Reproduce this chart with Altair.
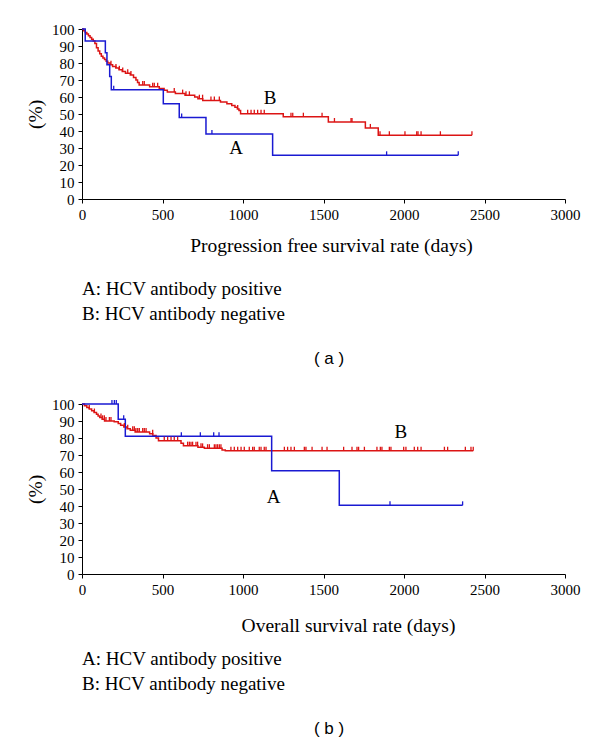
import altair as alt
import pandas as pd

# ---------------- data ----------------
PFS_A_T = [0, 20, 145, 155, 172, 182, 505, 604, 770, 1184, 2337]
PFS_A_S = [100, 93, 86, 79, 72, 64.3, 56, 48, 38.3, 25.7, 25.7]
PFS_A_CENS = [197, 619, 807, 1892, 2337]

PFS_B_T = [0, 10, 20, 30, 40, 50, 60, 70, 80, 90, 100, 110, 120, 130, 140, 150, 160, 175, 190, 210,
           230, 250, 270, 300, 320, 335, 345, 355, 420, 480, 510, 530, 580, 640, 700, 720, 750, 860, 900, 930,
           950, 965, 975, 985, 1250, 1530, 1760, 1840, 2422]
PFS_B_S = [100, 99, 98, 97, 96, 95, 94, 93, 91.5, 89, 87, 85.5, 84, 83, 82, 81, 80, 79, 78, 77,
           76, 75, 74, 73, 71.5, 70, 68.5, 67, 66, 65, 64, 63, 62, 61, 60, 59, 58, 57, 56, 55,
           54, 53, 52, 50.2, 48.4, 45.3, 41.8, 37.5, 37.5]
PFS_B_CENS = [180, 211, 232, 253, 284, 304, 377, 387, 439, 449, 470, 573, 625, 646, 667, 729, 749, 801,
              822, 853, 967, 1029, 1050, 1070, 1091, 1112, 1132, 1298, 1309, 1375, 1491, 1568, 1671, 1677,
              1791, 1851, 1909, 2006, 2079, 2087, 2106, 2226, 2422]

OS_A_T = [0, 225, 269, 1178, 1598, 2364]
OS_A_S = [100, 91, 81, 60.7, 40.4, 40.4]
OS_A_CENS = [186, 201, 213, 259, 617, 735, 818, 851, 1913, 2364]

OS_B_T = [0, 15, 30, 45, 60, 75, 90, 100, 110, 125, 140, 200, 225, 240, 260, 280, 300, 330, 420, 440,
          460, 475, 615, 630, 720, 760, 870, 890, 2430]
OS_B_S = [100, 99, 98, 97, 96, 95, 94, 93, 92, 91, 90, 89.5, 88.5, 87.5, 86.5, 85.5, 84.5, 83.5, 82.5, 81.5,
          80, 78.4, 76.9, 75.5, 74.5, 74, 73, 72.5, 72.5]
OS_B_CENS = [45, 77, 118, 128, 139, 149, 170, 180, 263, 284, 315, 325, 335, 346, 356, 377, 387, 398, 439,
             511, 532, 553, 573, 594, 656, 667, 677, 687, 708, 718, 739, 749, 780, 791, 822, 832, 842, 853,
             863, 925, 946, 967, 988, 1008, 1039, 1060, 1070, 1101, 1112, 1132, 1143, 1257, 1277, 1298, 1319,
             1381, 1391, 1429, 1491, 1522, 1625, 1677, 1708, 1718, 1754, 1832, 1853, 1863, 1909, 1919, 1998,
             2012, 2064, 2085, 2106, 2251, 2271, 2381, 2416, 2430]

GROUP_LABELS = ["A", "B"]
LEGEND_LINES = ["A: HCV antibody positive", "B: HCV antibody negative"]
X_TICKS = [0, 500, 1000, 1500, 2000, 2500, 3000]
Y_TICKS = [0, 10, 20, 30, 40, 50, 60, 70, 80, 90, 100]

# ---------------- style ----------------
BLUE = "#1a1ad2"
RED = "#dc1414"
SERIF = "Liberation Serif"
SANS = "Liberation Sans"
W, H = 483, 170


def surv_at(times, values, t):
    v = values[0]
    for ti, vi in zip(times, values):
        if ti <= t:
            v = vi
    return v


def panel(a_t, a_s, a_c, b_t, b_s, b_c, xtitle, title_x, title_pad, annot, leg_y, cap, cap_y):
    xs = alt.Scale(domain=[0, 3000], nice=False)
    ys = alt.Scale(domain=[0, 100], nice=False)
    xax = alt.Axis(values=X_TICKS, title=xtitle, titleX=title_x, titlePadding=title_pad,
                   format="d", labelOverlap=False, labelFlush=False)
    yax = alt.Axis(values=Y_TICKS, title="(%)", format="d", labelOverlap=False, labelFlush=False)
    X = lambda: alt.X("t:Q", scale=xs, axis=xax)
    Y = lambda: alt.Y("s:Q", scale=ys, axis=yax)

    dA = pd.DataFrame({"t": a_t, "s": a_s})
    dB = pd.DataFrame({"t": b_t, "s": b_s})
    cA = pd.DataFrame({"t": a_c, "s": [surv_at(a_t, a_s, t) for t in a_c]})
    cB = pd.DataFrame({"t": b_c, "s": [surv_at(b_t, b_s, t) for t in b_c]})

    def line(d, col):
        return alt.Chart(d).mark_line(interpolate="step-after", color=col, strokeWidth=1.5).encode(
            x=X(), y=Y())

    def cens(d, col):
        return alt.Chart(d).mark_point(shape="M0,0L0,-1", size=64, filled=False, stroke=col,
                                       strokeWidth=1.3, opacity=1).encode(x=X(), y=Y())

    ann = pd.DataFrame({"t": [annot[0][0], annot[1][0]], "s": [annot[0][1], annot[1][1]],
                        "lab": GROUP_LABELS})
    annc = alt.Chart(ann).mark_text(font=SERIF, fontSize=19, color="black").encode(
        x=X(), y=Y(), text="lab:N")

    one = pd.DataFrame({"k": [0]})
    legs = [alt.Chart(one).mark_text(text=LEGEND_LINES[i], font=SERIF, fontSize=19, align="left",
                                     baseline="middle", color="black").encode(
        x=alt.value(0), y=alt.value(leg_y[i])) for i in range(2)]
    capc = alt.Chart(one).mark_text(text=cap, font=SANS, fontSize=17, align="center",
                                    baseline="middle", color="black").encode(
        x=alt.value(247), y=alt.value(cap_y))

    return alt.layer(line(dB, RED), line(dA, BLUE), cens(cB, RED), cens(cA, BLUE), annc,
                     *legs, capc).properties(width=W, height=H)


pa = panel(PFS_A_T, PFS_A_S, PFS_A_CENS, PFS_B_T, PFS_B_S, PFS_B_CENS,
           "Progression free survival rate (days)", 249, 14,
           [(957, 30), (1168, 59.4)], [260, 285], "( a )", 330)
pb = panel(OS_A_T, OS_A_S, OS_A_CENS, OS_B_T, OS_B_S, OS_B_CENS,
           "Overall survival rate (days)", 266, 19,
           [(1190, 45.5), (1981, 83.3)], [255, 280], "( b )", 325)

chart = alt.vconcat(pa, pb, spacing=30).properties(
    padding={"left": 17, "top": 14, "right": 5, "bottom": 5}
).configure_view(stroke=None).configure_axis(
    grid=False, domainColor="black", tickColor="black", tickSize=4, domainWidth=1, tickWidth=1,
    labelFont=SERIF, labelFontSize=15, labelColor="black", labelPadding=4,
    titleFont=SERIF, titleFontSize=19.5, titleFontWeight="normal", titleColor="black"
).configure_axisY(titlePadding=6)

chart.save("out.html", embed_options={"renderer": "svg", "actions": False})
